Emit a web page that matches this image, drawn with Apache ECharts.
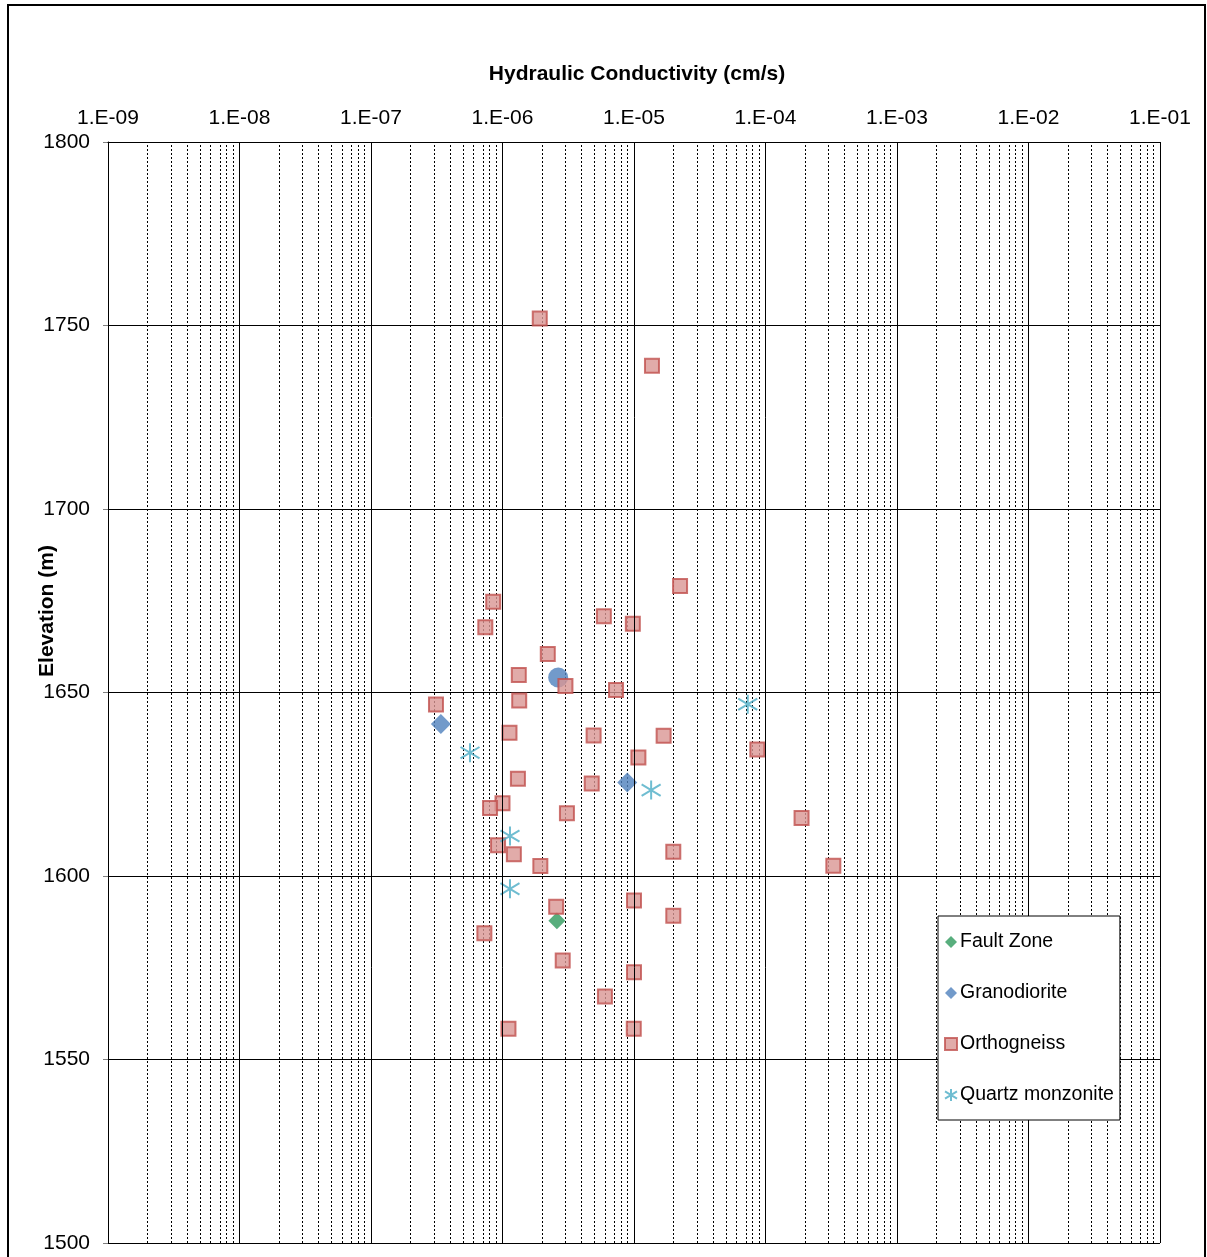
<!DOCTYPE html>
<html>
<head>
<meta charset="utf-8">
<script src="https://cdn.jsdelivr.net/npm/echarts@6/dist/echarts.min.js"></script>
<style>
html,body{margin:0;padding:0;background:#fff;}
#chart{width:1207px;height:1257px;}
</style>
</head>
<body>
<div id="chart"></div>
<script>
// ---- data ----
const decadeExponents = [-9, -8, -7, -6, -5, -4, -3, -2, -1];
const elevTicks = [1500, 1550, 1600, 1650, 1700, 1750, 1800];

const faultK = [2.59e-6];
const faultElev = [1587.8];

const granoK = [3.40e-7, 8.89e-6];
const granoElev = [1641.4, 1625.5];

const circleK = [2.65e-6];
const circleElev = [1654.1];

const orthoK = [1.92e-6, 1.37e-5, 2.24e-5, 8.5e-7, 5.9e-6, 9.8e-6, 7.4e-7, 2.21e-6, 1.33e-6, 3.01e-6,
  7.3e-6, 1.34e-6, 3.12e-7, 1.13e-6, 4.93e-6, 1.68e-5, 8.67e-5, 1.08e-5, 1.31e-6, 4.77e-6,
  1.0e-6, 8.04e-7, 3.09e-6, 1.88e-4, 9.25e-7, 1.99e-5, 1.22e-6, 3.28e-4, 1.94e-6, 1.0e-5,
  2.56e-6, 1.99e-5, 7.28e-7, 2.87e-6, 1.0e-5, 6.01e-6, 1.11e-6, 9.96e-6];
const orthoElev = [1751.9, 1739.0, 1679.0, 1674.7, 1670.8, 1668.7, 1667.8, 1660.5, 1654.8, 1651.8,
  1650.7, 1647.8, 1646.7, 1639.0, 1638.3, 1638.2, 1634.5, 1632.3, 1626.5, 1625.2,
  1619.8, 1618.5, 1617.1, 1615.8, 1608.4, 1606.6, 1605.9, 1602.8, 1602.7, 1593.3,
  1591.6, 1589.2, 1584.4, 1577.0, 1573.8, 1567.2, 1558.4, 1558.4];

const quartzK = [5.66e-7, 1.14e-6, 1.14e-6, 1.35e-5, 7.33e-5];
const quartzElev = [1633.6, 1610.9, 1596.5, 1623.4, 1646.8];

// ---- build ----
function pairs(xs, ys) { return xs.map((x, i) => [x, ys[i]]); }
// minor (2..9) grid lines in each decade, placed on a hidden linear exponent axis
const minorLines = [];
for (let i = 0; i < decadeExponents.length - 1; i++) {
  for (let m = 2; m <= 9; m++) minorLines.push({ xAxis: decadeExponents[i] + Math.log10(m) });
}
const FONT = 'Liberation Sans, Arial, sans-serif';
const starPath = 'path://M10,0 L10,20 M0,4 L20,16 M0,16 L20,4';

const chart = echarts.init(document.getElementById('chart'));
chart.setOption({
  animation: false,
  backgroundColor: '#fff',
  textStyle: { fontFamily: FONT },
  title: {
    text: 'Hydraulic Conductivity (cm/s)',
    left: 632, textAlign: 'center', top: 59,
    textStyle: { fontFamily: FONT, fontSize: 21, fontWeight: 'bold', color: '#000' }
  },
  grid: { left: 108, top: 142, right: 47, bottom: 14, containLabel: false },
  xAxis: [{
    type: 'log', logBase: 10, position: 'top',
    min: Math.pow(10, decadeExponents[0]),
    max: Math.pow(10, decadeExponents[decadeExponents.length - 1]),
    axisLine: { show: true, lineStyle: { color: '#000', width: 1 } },
    axisTick: { show: false },
    axisLabel: {
      margin: 13, fontSize: 21, color: '#000', fontFamily: FONT,
      formatter: function (v) {
        const e = Math.round(Math.log10(v));
        const a = Math.abs(e);
        return '1.E' + (e < 0 ? '-' : '+') + (a < 10 ? '0' + a : a);
      }
    },
    splitLine: { show: true, lineStyle: { color: '#000', width: 1 } },
    z: 3
  }, {
    type: 'value', show: false,
    min: decadeExponents[0], max: decadeExponents[decadeExponents.length - 1],
    splitLine: { show: false }
  }],
  yAxis: {
    type: 'value',
    min: elevTicks[0], max: elevTicks[elevTicks.length - 1], interval: 50,
    axisLine: { show: true, lineStyle: { color: '#000', width: 1 } },
    axisTick: { show: true, length: 5, lineStyle: { color: '#808080' } },
    axisLabel: { margin: 18, fontSize: 21, color: '#000', fontFamily: FONT,
      formatter: function (v) { return String(v); } },
    splitLine: { show: true, lineStyle: { color: '#000', width: 1 } }
  },
  legend: {
    orient: 'vertical', left: 938, top: 916, z: 50,
    padding: [16, 6, 15, 6],
    itemGap: 31, itemWidth: 12, itemHeight: 12,
    borderColor: '#000', borderWidth: 1, backgroundColor: '#fff',
    textStyle: { fontSize: 19.5, color: '#000', fontFamily: FONT, lineHeight: 20, padding: [0, 0, 0, -2] },
    data: ['Fault Zone', 'Granodiorite', 'Orthogneiss', 'Quartz monzonite']
  },
  graphic: [
    {
      type: 'rect', silent: true, z: 100,
      shape: { x: 8, y: 5, width: 1197, height: 1270 },
      style: { fill: 'none', stroke: '#000', lineWidth: 2 }
    },
    {
      type: 'text', silent: true, z: 100,
      x: 47, y: 611, rotation: Math.PI / 2,
      style: {
        text: 'Elevation (m)', fontSize: 21, fontWeight: 'bold', fontFamily: FONT,
        fill: '#000', align: 'center', verticalAlign: 'middle'
      }
    }
  ],
  series: [
    {
      name: 'minor', type: 'scatter', xAxisIndex: 1, data: [], silent: true, z: 1,
      markLine: {
        silent: true, symbol: ['none', 'none'], label: { show: false }, z: 1,
        lineStyle: { color: '#000', width: 1, type: [2, 2] },
        data: minorLines
      }
    },
    {
      name: 'Granodiorite mean', type: 'scatter', data: pairs(circleK, circleElev),
      symbol: 'circle', symbolSize: 20,
      itemStyle: { color: '#4F81BD' }
    },
    {
      name: 'Fault Zone', type: 'scatter', data: pairs(faultK, faultElev),
      symbol: 'diamond', symbolSize: 17,
      itemStyle: { color: '#2E9A5C' }
    },
    {
      name: 'Granodiorite', type: 'scatter', data: pairs(granoK, granoElev),
      symbol: 'diamond', symbolSize: 20,
      itemStyle: { color: '#4F81BD' }
    },
    {
      name: 'Orthogneiss', type: 'scatter', data: pairs(orthoK, orthoElev),
      symbol: 'rect', symbolSize: 14,
      itemStyle: { color: '#D99694', borderColor: '#C0504D', borderWidth: 2 }
    },
    {
      name: 'Quartz monzonite', type: 'scatter', data: pairs(quartzK, quartzElev),
      symbol: starPath, symbolSize: 19,
      itemStyle: { color: 'rgba(0,0,0,0)', borderColor: '#4BACC6', borderWidth: 2 }
    }
  ]
});
</script>
</body>
</html>
